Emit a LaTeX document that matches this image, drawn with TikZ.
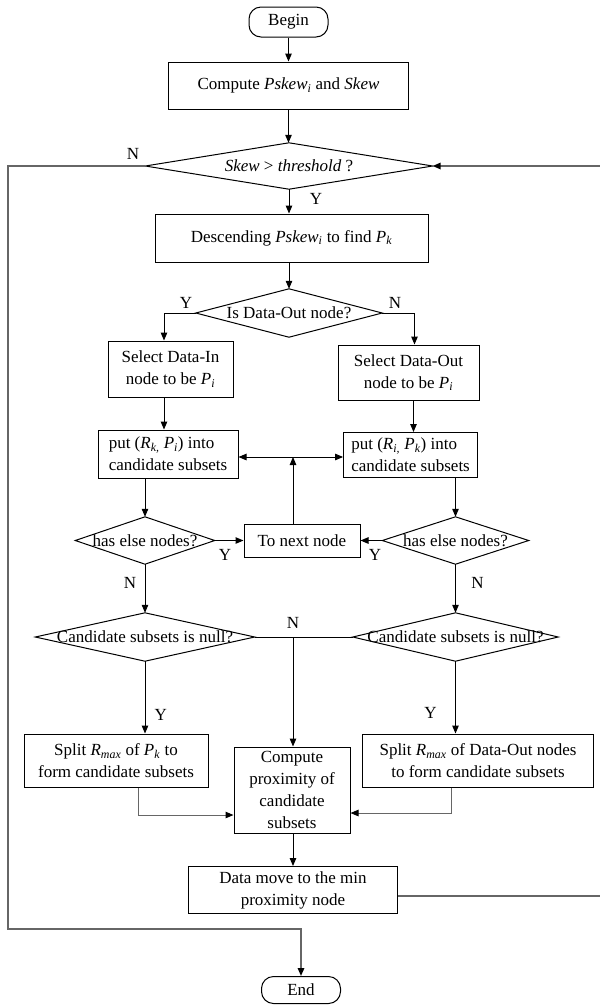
\documentclass[tikz,border=0pt]{standalone}
\usepackage{fontspec}
\setmainfont{Liberation Serif}
\usetikzlibrary{arrows.meta,calc}
\newcommand{\itx}[1]{\textit{#1}}
\newcommand{\sbi}[1]{\textsubscript{\textit{#1}}}
\begin{document}
\begin{tikzpicture}[x=1pt,y=-1pt,
  every node/.style={font=\fontsize{17}{22}\selectfont},
  box/.style={draw, line width=1pt, inner sep=0pt, align=center},
  term/.style={box, rounded corners=12pt},
  dia/.style={inner sep=0pt, align=center},
  diaedge/.style={draw, line width=1pt},
  arr/.style={line width=1pt, -{Triangle[length=8pt,width=6.5pt]}},
  ln/.style={line width=1pt},
  backline/.style={line width=1.6pt, draw=black!60, -{Triangle[length=8pt,width=6.5pt,color=black]}},
  sideln/.style={line width=1pt, draw=black!60, -{Triangle[length=8pt,width=6.5pt,color=black]}},
  lab/.style={inner sep=0pt}]
\useasboundingbox (0,0) rectangle (600,1005);

% nodes
\node[term, minimum width=79, minimum height=30] (begin) at (288.5,22) {Begin};
\node[box, minimum width=240, minimum height=47] (comp) at (288.5,85.5) {Compute \itx{Pskew}\sbi{i} and \itx{Skew}};
\node[dia, minimum width=287, minimum height=46] (skew) at (289,166) {\itx{Skew} > \itx{threshold} ?};
\node[box, minimum width=273, minimum height=48] (desc) at (291.5,238) {Descending \itx{Pskew}\sbi{i} to find \itx{P}\sbi{k}};
\node[dia, minimum width=186, minimum height=48] (isdo) at (289,313) {Is Data-Out node?};
\node[box, minimum width=125, minimum height=56] (selin) at (170.5,369) {Select Data-In\\node to be \itx{P}\sbi{i}};
\node[box, minimum width=141, minimum height=55] (selout) at (408.5,372.5) {Select Data-Out\\node to be \itx{P}\sbi{i}};
\node[box, minimum width=140, minimum height=48, align=left] (putl) at (168,454) {put (\itx{R}\sbi{k,} \itx{P}\sbi{i}) into\\candidate subsets};
\node[box, minimum width=134, minimum height=45, align=left] (putr) at (410.6,455) {put (\itx{R}\sbi{i,} \itx{P}\sbi{k}) into\\candidate subsets};
\node[dia, minimum width=139, minimum height=47] (hasl) at (145,540.5) {has else nodes?};
\node[box, minimum width=116, minimum height=33] (next) at (302,540.5) {To next node};
\node[dia, minimum width=146, minimum height=47] (hasr) at (455.5,540.5) {has else nodes?};
\node[dia, minimum width=219, minimum height=48] (candl) at (145,637) {Candidate subsets is null?};
\node[dia, minimum width=205, minimum height=48] (candr) at (455.5,637) {Candidate subsets is null?};
\node[box, minimum width=184, minimum height=53] (splitl) at (116,760.5) {Split \itx{R}\sbi{max} of \itx{P}\sbi{k} to\\form candidate subsets};
\node[box, minimum width=231, minimum height=53] (splitr) at (478,760.5) {Split \itx{R}\sbi{max} of Data-Out nodes\\to form candidate subsets};
\node[box, minimum width=116, minimum height=86] (prox) at (292,790) {Compute\\proximity of\\candidate\\subsets};
\node[box, minimum width=209, minimum height=47] (move) at (293,890) {Data move to the min\\proximity node};
\node[term, minimum width=79, minimum height=27] (end) at (301,990) {End};

% diamond outlines
\foreach \d in {skew,isdo,hasl,hasr,candl,candr}
  \draw[diaedge] (\d.north) -- (\d.east) -- (\d.south) -- (\d.west) -- cycle;

% labels
\node[lab] (l1) at (133,154) {N};
\node[lab] (l2) at (316,199) {Y};
\node[lab] (l3) at (186,303) {Y};
\node[lab] (l4) at (395,303) {N};
\node[lab] (l5) at (225,555) {Y};
\node[lab] (l6) at (375,555) {Y};
\node[lab] (l7) at (130,583) {N};
\node[lab] (l8) at (477.6,583) {N};
\node[lab] (l9) at (293,623) {N};
\node[lab] (l10) at (160.7,715) {Y};
\node[lab] (l11) at (430.5,713) {Y};

% connectors
\draw[arr] (begin.south -| comp.north) -- (comp.north);
\draw[arr] (comp.south) -- (comp.south |- skew.north);
\draw[arr] (skew.south) -- (skew.south |- desc.north);
\draw[arr] (desc.south -| isdo.north) -- (isdo.north);
\draw[arr] (isdo.west) -| ([xshift=-6.5pt]selin.north);
\draw[arr] (isdo.east) -| ([xshift=6pt]selout.north);
\draw[arr] ([xshift=-6.5pt]selin.south) -- ([xshift=-6.5pt]selin.south |- putl.north);
\draw[arr] ([xshift=5pt]selout.south) -- ([xshift=5pt]selout.south |- putr.north);
\draw[arr] (putl.south -| hasl.north) -- (hasl.north);
\draw[arr] (putr.south -| hasr.north) -- (hasr.north);
\draw[arr] (hasl.east) -- (next.west);
\draw[arr] (hasr.west) -- (next.east);
\coordinate (j) at (293,457);
\draw[arr] (next.north -| j) -- (j);
\draw[arr] (j) -- (j -| putl.east);
\draw[arr] (j) -- (j -| putr.west);
\draw[arr] (hasl.south) -- (candl.north);
\draw[arr] (hasr.south) -- (candr.north);
\draw[ln] (candl.east) -- (candr.west);
\coordinate (k) at (293,637);
\draw[arr] (k) -- (k |- prox.north);
\draw[arr] (candl.south) -- (candl.south |- splitl.north);
\draw[arr] (candr.south) -- (candr.south |- splitr.north);
\draw[sideln] ([xshift=22pt]splitl.south) |- ($(prox.west)+(0,25)$);
\draw[sideln] ([xshift=-27pt]splitr.south) |- ($(prox.east)+(0,23)$);
\draw[arr] (prox.south -| move.north) -- (move.north);
\coordinate (rb) at (601,895.7);
\coordinate (rt) at (601,166);
\draw[backline] ($(move.east)+(0,5.7)$) -- (rb) -- (rt) -- (skew.east);
\coordinate (lt) at (7.7,166);
\coordinate (lb) at (7.7,929);
\draw[backline] (skew.west) -- (lt) -- (lb) -| (end.north);
\end{tikzpicture}
\end{document}
